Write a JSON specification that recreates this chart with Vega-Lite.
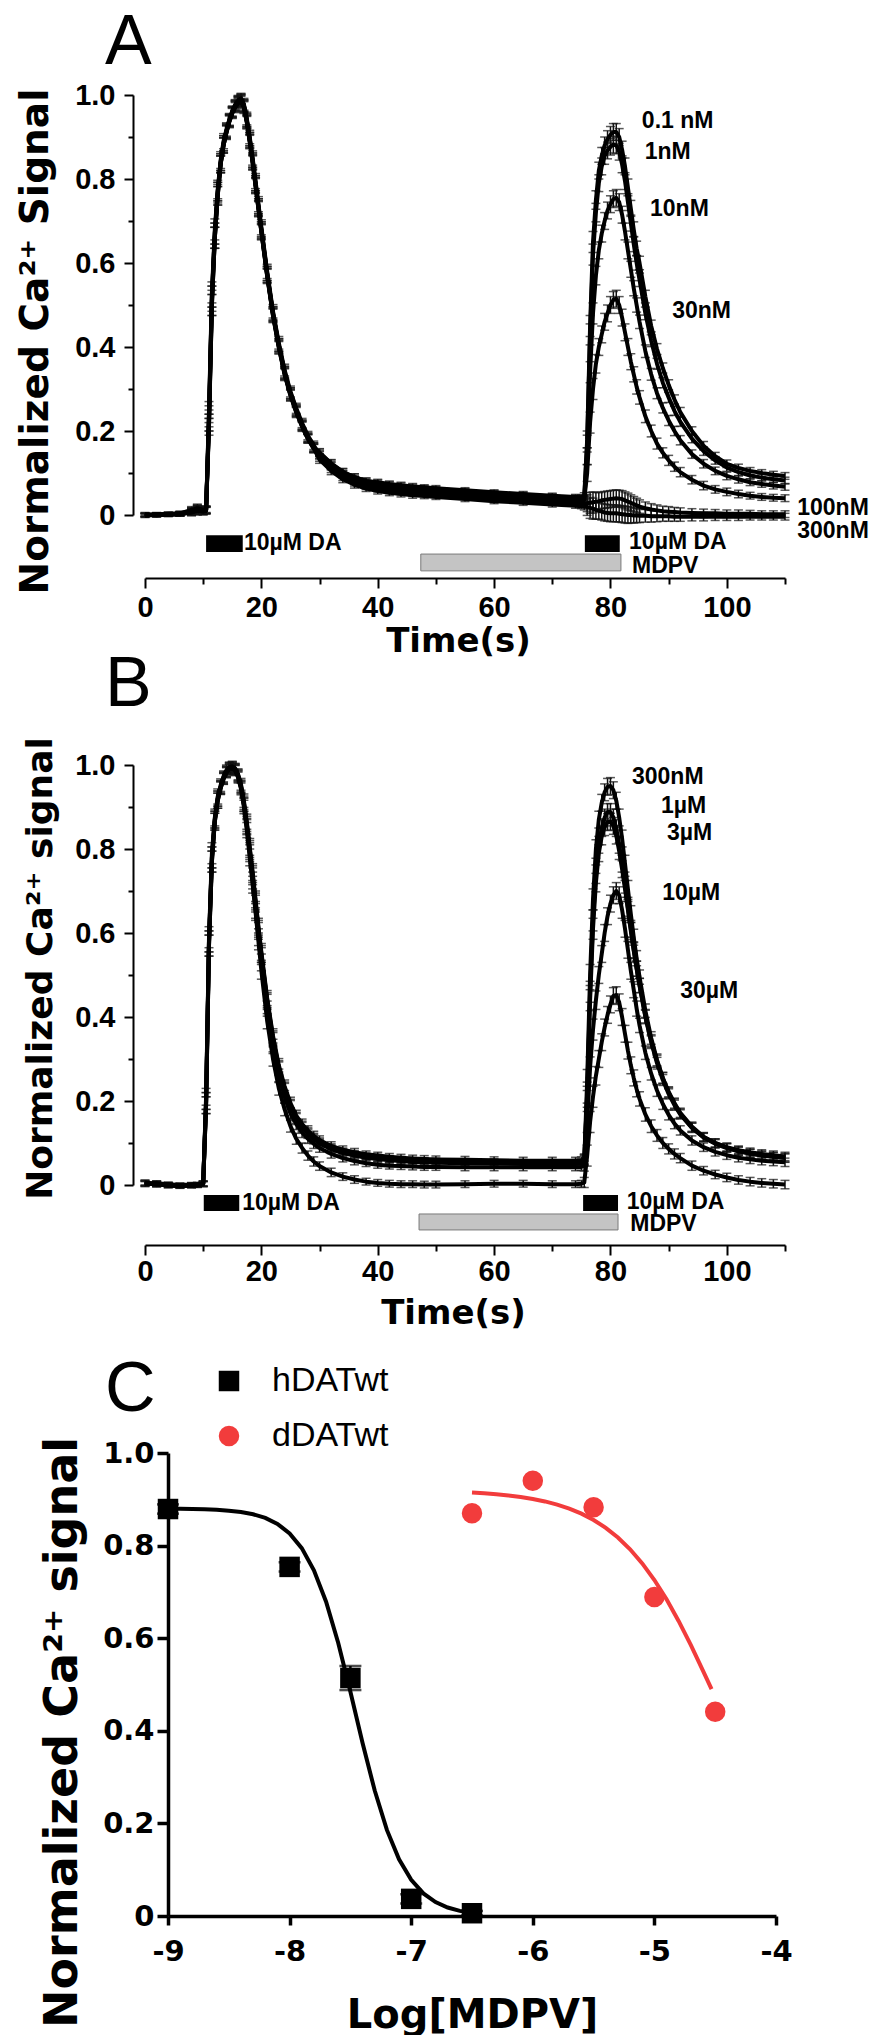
{
"$schema":"https://vega.github.io/schema/vega-lite/v6.json",
"padding":{"left":15,"top":8,"right":0,"bottom":0},
"background":"white",
"bounds":"flush",
"spacing":250,
"resolve":{"scale":{"color":"independent","shape":"independent"},"legend":{"color":"independent","shape":"independent"}},
"config":{
  "view":{"stroke":null},
  "axis":{"grid":false,"domainColor":"black","tickColor":"black","labelColor":"black","titleColor":"black","labelFlush":false,"labelOverlap":false,"labelBound":false}
},
"datasets":{
"traceA":[
{"t":0,"e":0.004,"a":0,"b":0.002,"c":-0.002,"d":0.001,"f":0,"g":-0.001},
{"t":2,"e":0.004,"a":0.001,"b":0,"c":0.002,"d":-0.001,"f":0.001,"g":0},
{"t":4,"e":0.004,"a":0.002,"b":0.003,"c":0.001,"d":0.002,"f":0,"g":0.002},
{"t":6,"e":0.005,"a":0.003,"b":0.004,"c":0.002,"d":0.003,"f":0.002,"g":0.003},
{"t":8,"e":0.008,"a":0.008,"b":0.012,"c":0.006,"d":0.01,"f":0.007,"g":0.009},
{"t":9,"e":0.01,"a":0.012,"b":0.016,"c":0.01,"d":0.014,"f":0.011,"g":0.013},
{"t":10,"e":0.008,"a":0.01,"b":0.012,"c":0.008,"d":0.011,"f":0.009,"g":0.01},
{"t":10.5,"e":0.008,"a":0.012,"b":0.014,"c":0.01,"d":0.012,"f":0.011,"g":0.012},
{"t":11,"e":0.02,"a":0.23,"b":0.22,"c":0.25,"d":0.21,"f":0.24,"g":0.22},
{"t":11.5,"e":0.025,"a":0.52,"b":0.5,"c":0.53,"d":0.5,"f":0.52,"g":0.51},
{"t":12,"e":0.025,"a":0.67,"b":0.66,"c":0.68,"d":0.66,"f":0.67,"g":0.66},
{"t":12.5,"e":0.022,"a":0.77,"b":0.76,"c":0.775,"d":0.76,"f":0.77,"g":0.765},
{"t":13,"e":0.02,"a":0.84,"b":0.835,"c":0.845,"d":0.835,"f":0.84,"g":0.835},
{"t":13.5,"e":0.018,"a":0.885,"b":0.88,"c":0.89,"d":0.88,"f":0.885,"g":0.88},
{"t":14,"e":0.016,"a":0.915,"b":0.912,"c":0.918,"d":0.91,"f":0.915,"g":0.912},
{"t":14.5,"e":0.014,"a":0.94,"b":0.938,"c":0.942,"d":0.936,"f":0.94,"g":0.938},
{"t":15,"e":0.012,"a":0.96,"b":0.958,"c":0.962,"d":0.956,"f":0.96,"g":0.958},
{"t":15.5,"e":0.012,"a":0.975,"b":0.972,"c":0.977,"d":0.97,"f":0.975,"g":0.973},
{"t":16,"e":0.012,"a":0.985,"b":0.982,"c":0.987,"d":0.98,"f":0.985,"g":0.983},
{"t":16.5,"e":0.012,"a":0.99,"b":0.987,"c":0.992,"d":0.985,"f":0.99,"g":0.988},
{"t":17,"e":0.014,"a":0.975,"b":0.972,"c":0.978,"d":0.97,"f":0.975,"g":0.973},
{"t":17.5,"e":0.015,"a":0.94,"b":0.936,"c":0.944,"d":0.934,"f":0.94,"g":0.937},
{"t":18,"e":0.016,"a":0.895,"b":0.89,"c":0.9,"d":0.888,"f":0.895,"g":0.891},
{"t":18.5,"e":0.017,"a":0.845,"b":0.84,"c":0.85,"d":0.838,"f":0.845,"g":0.841},
{"t":19,"e":0.018,"a":0.79,"b":0.785,"c":0.795,"d":0.783,"f":0.79,"g":0.786},
{"t":19.5,"e":0.018,"a":0.735,"b":0.73,"c":0.74,"d":0.728,"f":0.735,"g":0.731},
{"t":20,"e":0.018,"a":0.68,"b":0.675,"c":0.685,"d":0.673,"f":0.68,"g":0.676},
{"t":21,"e":0.017,"a":0.575,"b":0.57,"c":0.58,"d":0.568,"f":0.575,"g":0.571},
{"t":22,"e":0.016,"a":0.48,"b":0.476,"c":0.485,"d":0.474,"f":0.48,"g":0.477},
{"t":23,"e":0.015,"a":0.405,"b":0.4,"c":0.41,"d":0.398,"f":0.405,"g":0.402},
{"t":24,"e":0.014,"a":0.34,"b":0.336,"c":0.345,"d":0.334,"f":0.34,"g":0.337},
{"t":25,"e":0.013,"a":0.29,"b":0.286,"c":0.294,"d":0.284,"f":0.29,"g":0.287},
{"t":26,"e":0.012,"a":0.25,"b":0.246,"c":0.254,"d":0.244,"f":0.25,"g":0.247},
{"t":27,"e":0.011,"a":0.215,"b":0.212,"c":0.219,"d":0.21,"f":0.215,"g":0.212},
{"t":28,"e":0.01,"a":0.185,"b":0.182,"c":0.189,"d":0.181,"f":0.185,"g":0.182},
{"t":29,"e":0.01,"a":0.162,"b":0.159,"c":0.166,"d":0.158,"f":0.162,"g":0.159},
{"t":30,"e":0.009,"a":0.148,"b":0.142,"c":0.144,"d":0.149,"f":0.137,"g":0.132},
{"t":32,"e":0.009,"a":0.122,"b":0.116,"c":0.118,"d":0.123,"f":0.11,"g":0.105},
{"t":34,"e":0.008,"a":0.102,"b":0.097,"c":0.098,"d":0.103,"f":0.09,"g":0.085},
{"t":36,"e":0.008,"a":0.09,"b":0.084,"c":0.085,"d":0.09,"f":0.077,"g":0.072},
{"t":38,"e":0.007,"a":0.081,"b":0.075,"c":0.076,"d":0.081,"f":0.068,"g":0.063},
{"t":40,"e":0.007,"a":0.078,"b":0.072,"c":0.068,"d":0.076,"f":0.062,"g":0.057},
{"t":42,"e":0.007,"a":0.074,"b":0.068,"c":0.064,"d":0.072,"f":0.058,"g":0.053},
{"t":44,"e":0.007,"a":0.071,"b":0.065,"c":0.061,"d":0.069,"f":0.055,"g":0.05},
{"t":46,"e":0.007,"a":0.068,"b":0.062,"c":0.058,"d":0.066,"f":0.052,"g":0.047},
{"t":48,"e":0.006,"a":0.066,"b":0.06,"c":0.056,"d":0.064,"f":0.05,"g":0.045},
{"t":50,"e":0.006,"a":0.064,"b":0.058,"c":0.054,"d":0.062,"f":0.048,"g":0.043},
{"t":55,"e":0.006,"a":0.059,"b":0.053,"c":0.049,"d":0.057,"f":0.043,"g":0.038},
{"t":60,"e":0.006,"a":0.054,"b":0.048,"c":0.044,"d":0.052,"f":0.038,"g":0.033},
{"t":65,"e":0.006,"a":0.05,"b":0.044,"c":0.04,"d":0.048,"f":0.034,"g":0.029},
{"t":70,"e":0.006,"a":0.046,"b":0.04,"c":0.036,"d":0.044,"f":0.03,"g":0.025},
{"t":74,"e":0.006,"a":0.043,"b":0.037,"c":0.033,"d":0.041,"f":0.027,"g":0.022},
{"t":75,"e":0.006,"a":0.042,"b":0.036,"c":0.032,"d":0.04,"f":0.026,"g":0.021},
{"t":75.5,"e":0.008,"a":0.045,"b":0.04,"c":0.036,"d":0.037,"f":0.027,"g":0.02},
{"t":76,"e":0.02,"a":0.18,"b":0.17,"c":0.14,"d":0.1,"f":0.028,"g":0.019},
{"t":76.5,"e":0.025,"a":0.45,"b":0.43,"c":0.34,"d":0.22,"f":0.029,"g":0.017},
{"t":77,"e":0.025,"a":0.65,"b":0.62,"c":0.48,"d":0.3,"f":0.03,"g":0.015},
{"t":77.5,"e":0.022,"a":0.75,"b":0.72,"c":0.57,"d":0.36,"f":0.032,"g":0.012},
{"t":78,"e":0.02,"a":0.82,"b":0.79,"c":0.63,"d":0.4,"f":0.033,"g":0.01},
{"t":78.5,"e":0.02,"a":0.855,"b":0.83,"c":0.67,"d":0.43,"f":0.035,"g":0.008},
{"t":79,"e":0.02,"a":0.88,"b":0.855,"c":0.7,"d":0.46,"f":0.036,"g":0.006},
{"t":79.5,"e":0.02,"a":0.895,"b":0.868,"c":0.725,"d":0.48,"f":0.037,"g":0.005},
{"t":80,"e":0.02,"a":0.905,"b":0.877,"c":0.74,"d":0.5,"f":0.038,"g":0.004},
{"t":80.5,"e":0.02,"a":0.912,"b":0.882,"c":0.752,"d":0.512,"f":0.039,"g":0.004},
{"t":81,"e":0.02,"a":0.912,"b":0.88,"c":0.755,"d":0.515,"f":0.04,"g":0.004},
{"t":81.5,"e":0.02,"a":0.9,"b":0.865,"c":0.745,"d":0.5,"f":0.039,"g":0.003},
{"t":82,"e":0.02,"a":0.87,"b":0.835,"c":0.715,"d":0.47,"f":0.038,"g":0.002},
{"t":82.5,"e":0.02,"a":0.83,"b":0.795,"c":0.675,"d":0.435,"f":0.035,"g":0.001},
{"t":83,"e":0.02,"a":0.78,"b":0.745,"c":0.63,"d":0.4,"f":0.032,"g":0},
{"t":83.5,"e":0.019,"a":0.73,"b":0.695,"c":0.585,"d":0.365,"f":0.029,"g":0},
{"t":84,"e":0.018,"a":0.68,"b":0.645,"c":0.54,"d":0.335,"f":0.026,"g":-0.001},
{"t":84.5,"e":0.017,"a":0.635,"b":0.6,"c":0.5,"d":0.305,"f":0.023,"g":-0.001},
{"t":85,"e":0.016,"a":0.6,"b":0.56,"c":0.46,"d":0.28,"f":0.02,"g":-0.002},
{"t":86,"e":0.015,"a":0.52,"b":0.48,"c":0.39,"d":0.235,"f":0.016,"g":-0.002},
{"t":87,"e":0.014,"a":0.45,"b":0.415,"c":0.335,"d":0.2,"f":0.013,"g":-0.003},
{"t":88,"e":0.013,"a":0.395,"b":0.36,"c":0.29,"d":0.17,"f":0.011,"g":-0.003},
{"t":89,"e":0.012,"a":0.35,"b":0.315,"c":0.255,"d":0.148,"f":0.009,"g":-0.003},
{"t":90,"e":0.012,"a":0.31,"b":0.28,"c":0.225,"d":0.13,"f":0.008,"g":-0.003},
{"t":91,"e":0.011,"a":0.275,"b":0.248,"c":0.2,"d":0.115,"f":0.007,"g":-0.004},
{"t":92,"e":0.011,"a":0.245,"b":0.222,"c":0.178,"d":0.102,"f":0.006,"g":-0.004},
{"t":94,"e":0.01,"a":0.2,"b":0.182,"c":0.145,"d":0.084,"f":0.005,"g":-0.004},
{"t":96,"e":0.01,"a":0.165,"b":0.152,"c":0.122,"d":0.07,"f":0.004,"g":-0.004},
{"t":98,"e":0.009,"a":0.14,"b":0.13,"c":0.105,"d":0.061,"f":0.004,"g":-0.004},
{"t":100,"e":0.009,"a":0.122,"b":0.113,"c":0.093,"d":0.055,"f":0.003,"g":-0.004},
{"t":102,"e":0.009,"a":0.112,"b":0.102,"c":0.085,"d":0.05,"f":0.003,"g":-0.004},
{"t":104,"e":0.008,"a":0.105,"b":0.094,"c":0.078,"d":0.046,"f":0.003,"g":-0.004},
{"t":106,"e":0.008,"a":0.1,"b":0.089,"c":0.074,"d":0.043,"f":0.002,"g":-0.004},
{"t":108,"e":0.008,"a":0.096,"b":0.085,"c":0.07,"d":0.041,"f":0.002,"g":-0.004},
{"t":110,"e":0.008,"a":0.093,"b":0.082,"c":0.067,"d":0.04,"f":0.002,"g":-0.004}
],
"traceB":[
{"t":0,"e":0.006,"a":0.005,"b":0.003,"c":0.006,"d":0.004,"f":0.002},
{"t":2,"e":0.006,"a":0.003,"b":0.004,"c":0.002,"d":0.001,"f":0.003},
{"t":4,"e":0.005,"a":0,"b":0.002,"c":-0.001,"d":0.001,"f":-0.002},
{"t":6,"e":0.005,"a":-0.002,"b":0,"c":-0.003,"d":-0.001,"f":-0.002},
{"t":8,"e":0.005,"a":-0.001,"b":0.001,"c":-0.002,"d":0,"f":-0.001},
{"t":9,"e":0.005,"a":0,"b":0.001,"c":-0.001,"d":0.001,"f":0},
{"t":10,"e":0.006,"a":0.003,"b":0.004,"c":0.002,"d":0.003,"f":0.002},
{"t":10.5,"e":0.02,"a":0.2,"b":0.19,"c":0.21,"d":0.2,"f":0.19},
{"t":11,"e":0.025,"a":0.58,"b":0.57,"c":0.59,"d":0.58,"f":0.57},
{"t":11.5,"e":0.025,"a":0.78,"b":0.77,"c":0.79,"d":0.78,"f":0.77},
{"t":12,"e":0.02,"a":0.87,"b":0.865,"c":0.875,"d":0.87,"f":0.865},
{"t":12.5,"e":0.018,"a":0.92,"b":0.915,"c":0.925,"d":0.92,"f":0.915},
{"t":13,"e":0.015,"a":0.948,"b":0.945,"c":0.952,"d":0.948,"f":0.945},
{"t":13.5,"e":0.013,"a":0.97,"b":0.967,"c":0.973,"d":0.97,"f":0.967},
{"t":14,"e":0.012,"a":0.985,"b":0.982,"c":0.988,"d":0.985,"f":0.982},
{"t":14.5,"e":0.012,"a":0.993,"b":0.99,"c":0.995,"d":0.993,"f":0.99},
{"t":15,"e":0.012,"a":0.995,"b":0.992,"c":0.997,"d":0.995,"f":0.992},
{"t":15.5,"e":0.012,"a":0.99,"b":0.987,"c":0.992,"d":0.99,"f":0.987},
{"t":16,"e":0.013,"a":0.975,"b":0.972,"c":0.978,"d":0.975,"f":0.97},
{"t":16.5,"e":0.014,"a":0.95,"b":0.946,"c":0.954,"d":0.948,"f":0.943},
{"t":17,"e":0.016,"a":0.91,"b":0.905,"c":0.915,"d":0.906,"f":0.9},
{"t":17.5,"e":0.018,"a":0.86,"b":0.855,"c":0.865,"d":0.852,"f":0.845},
{"t":18,"e":0.02,"a":0.8,"b":0.795,"c":0.805,"d":0.79,"f":0.78},
{"t":18.5,"e":0.02,"a":0.74,"b":0.735,"c":0.745,"d":0.725,"f":0.715},
{"t":19,"e":0.02,"a":0.675,"b":0.67,"c":0.68,"d":0.655,"f":0.65},
{"t":19.5,"e":0.02,"a":0.61,"b":0.605,"c":0.615,"d":0.59,"f":0.58},
{"t":20,"e":0.02,"a":0.55,"b":0.545,"c":0.555,"d":0.53,"f":0.51},
{"t":21,"e":0.018,"a":0.44,"b":0.436,"c":0.445,"d":0.42,"f":0.39},
{"t":22,"e":0.017,"a":0.35,"b":0.346,"c":0.355,"d":0.33,"f":0.3},
{"t":23,"e":0.016,"a":0.28,"b":0.277,"c":0.285,"d":0.26,"f":0.23},
{"t":24,"e":0.015,"a":0.23,"b":0.227,"c":0.235,"d":0.21,"f":0.18},
{"t":25,"e":0.014,"a":0.19,"b":0.187,"c":0.195,"d":0.17,"f":0.14},
{"t":26,"e":0.013,"a":0.16,"b":0.157,"c":0.165,"d":0.145,"f":0.11},
{"t":27,"e":0.012,"a":0.14,"b":0.137,"c":0.145,"d":0.125,"f":0.088},
{"t":28,"e":0.011,"a":0.125,"b":0.122,"c":0.13,"d":0.11,"f":0.07},
{"t":29,"e":0.011,"a":0.112,"b":0.109,"c":0.117,"d":0.098,"f":0.056},
{"t":30,"e":0.01,"a":0.102,"b":0.099,"c":0.107,"d":0.088,"f":0.045},
{"t":32,"e":0.01,"a":0.088,"b":0.085,"c":0.093,"d":0.074,"f":0.03},
{"t":34,"e":0.009,"a":0.079,"b":0.076,"c":0.084,"d":0.064,"f":0.02},
{"t":36,"e":0.009,"a":0.073,"b":0.07,"c":0.078,"d":0.057,"f":0.013},
{"t":38,"e":0.008,"a":0.068,"b":0.065,"c":0.073,"d":0.052,"f":0.008},
{"t":40,"e":0.008,"a":0.065,"b":0.062,"c":0.07,"d":0.048,"f":0.005},
{"t":42,"e":0.008,"a":0.062,"b":0.059,"c":0.067,"d":0.046,"f":0.003},
{"t":44,"e":0.008,"a":0.06,"b":0.057,"c":0.065,"d":0.045,"f":0.002},
{"t":46,"e":0.008,"a":0.058,"b":0.055,"c":0.063,"d":0.044,"f":0.002},
{"t":48,"e":0.008,"a":0.057,"b":0.054,"c":0.062,"d":0.043,"f":0.001},
{"t":50,"e":0.008,"a":0.056,"b":0.053,"c":0.061,"d":0.043,"f":0.001},
{"t":55,"e":0.008,"a":0.055,"b":0.052,"c":0.06,"d":0.042,"f":0.002},
{"t":60,"e":0.008,"a":0.054,"b":0.051,"c":0.059,"d":0.042,"f":0.003},
{"t":65,"e":0.008,"a":0.053,"b":0.05,"c":0.058,"d":0.042,"f":0.003},
{"t":70,"e":0.008,"a":0.053,"b":0.05,"c":0.058,"d":0.042,"f":0.002},
{"t":74,"e":0.008,"a":0.053,"b":0.05,"c":0.058,"d":0.042,"f":0.002},
{"t":75,"e":0.008,"a":0.054,"b":0.051,"c":0.059,"d":0.043,"f":0.003},
{"t":75.5,"e":0.012,"a":0.06,"b":0.058,"c":0.062,"d":0.045,"f":0.006},
{"t":76,"e":0.025,"a":0.25,"b":0.22,"c":0.21,"d":0.15,"f":0.07},
{"t":76.5,"e":0.025,"a":0.5,"b":0.46,"c":0.44,"d":0.28,"f":0.15},
{"t":77,"e":0.025,"a":0.68,"b":0.63,"c":0.61,"d":0.37,"f":0.21},
{"t":77.5,"e":0.022,"a":0.8,"b":0.74,"c":0.72,"d":0.44,"f":0.26},
{"t":78,"e":0.02,"a":0.87,"b":0.81,"c":0.79,"d":0.5,"f":0.3},
{"t":78.5,"e":0.02,"a":0.91,"b":0.85,"c":0.83,"d":0.55,"f":0.34},
{"t":79,"e":0.02,"a":0.935,"b":0.875,"c":0.852,"d":0.6,"f":0.375},
{"t":79.5,"e":0.02,"a":0.948,"b":0.888,"c":0.864,"d":0.64,"f":0.405},
{"t":80,"e":0.02,"a":0.95,"b":0.888,"c":0.865,"d":0.67,"f":0.43},
{"t":80.5,"e":0.02,"a":0.94,"b":0.875,"c":0.855,"d":0.69,"f":0.45},
{"t":81,"e":0.02,"a":0.915,"b":0.85,"c":0.832,"d":0.7,"f":0.452},
{"t":81.5,"e":0.02,"a":0.875,"b":0.81,"c":0.795,"d":0.69,"f":0.435},
{"t":82,"e":0.02,"a":0.825,"b":0.765,"c":0.752,"d":0.655,"f":0.4},
{"t":82.5,"e":0.02,"a":0.765,"b":0.715,"c":0.705,"d":0.61,"f":0.36},
{"t":83,"e":0.02,"a":0.705,"b":0.66,"c":0.655,"d":0.56,"f":0.32},
{"t":83.5,"e":0.02,"a":0.645,"b":0.61,"c":0.605,"d":0.51,"f":0.285},
{"t":84,"e":0.019,"a":0.59,"b":0.56,"c":0.558,"d":0.465,"f":0.255},
{"t":84.5,"e":0.018,"a":0.54,"b":0.515,"c":0.515,"d":0.42,"f":0.228},
{"t":85,"e":0.017,"a":0.495,"b":0.475,"c":0.475,"d":0.38,"f":0.205},
{"t":86,"e":0.016,"a":0.415,"b":0.4,"c":0.402,"d":0.315,"f":0.168},
{"t":87,"e":0.015,"a":0.35,"b":0.34,"c":0.343,"d":0.265,"f":0.14},
{"t":88,"e":0.014,"a":0.298,"b":0.29,"c":0.295,"d":0.225,"f":0.118},
{"t":89,"e":0.013,"a":0.255,"b":0.25,"c":0.255,"d":0.193,"f":0.1},
{"t":90,"e":0.012,"a":0.22,"b":0.217,"c":0.222,"d":0.167,"f":0.086},
{"t":91,"e":0.012,"a":0.193,"b":0.19,"c":0.195,"d":0.146,"f":0.074},
{"t":92,"e":0.011,"a":0.17,"b":0.168,"c":0.172,"d":0.13,"f":0.064},
{"t":94,"e":0.011,"a":0.137,"b":0.136,"c":0.139,"d":0.106,"f":0.046},
{"t":96,"e":0.01,"a":0.114,"b":0.113,"c":0.115,"d":0.09,"f":0.034},
{"t":98,"e":0.01,"a":0.1,"b":0.098,"c":0.1,"d":0.079,"f":0.025},
{"t":100,"e":0.01,"a":0.09,"b":0.088,"c":0.089,"d":0.071,"f":0.018},
{"t":102,"e":0.01,"a":0.083,"b":0.08,"c":0.081,"d":0.065,"f":0.012},
{"t":104,"e":0.01,"a":0.078,"b":0.075,"c":0.075,"d":0.061,"f":0.008},
{"t":106,"e":0.01,"a":0.074,"b":0.07,"c":0.071,"d":0.058,"f":0.005},
{"t":108,"e":0.01,"a":0.071,"b":0.067,"c":0.068,"d":0.056,"f":0.003},
{"t":110,"e":0.01,"a":0.068,"b":0.064,"c":0.065,"d":0.054,"f":0.001}
],
"daA":[{"start":10.5,"end":16.8},{"start":75.6,"end":81.6}],
"mdA":[{"start":47.4,"end":81.8}],
"daB":[{"start":10.1,"end":16.2},{"start":75.3,"end":81.3}],
"mdB":[{"start":47.1,"end":81.3}],
"labA":[
{"t":85.4,"v":0.938,"label":"0.1 nM"},
{"t":85.9,"v":0.864,"label":"1nM"},
{"t":86.8,"v":0.729,"label":"10nM"},
{"t":90.6,"v":0.486,"label":"30nM"},
{"t":112.1,"v":0.017,"label":"100nM"},
{"t":112.1,"v":-0.038,"label":"300nM"},
{"t":17.0,"v":-0.067,"label":"10µM DA"},
{"t":83.2,"v":-0.064,"label":"10µM DA"},
{"t":83.7,"v":-0.121,"label":"MDPV"}
],
"labB":[
{"t":83.7,"v":0.971,"label":"300nM"},
{"t":88.7,"v":0.902,"label":"1µM"},
{"t":89.7,"v":0.838,"label":"3µM"},
{"t":88.9,"v":0.695,"label":"10µM"},
{"t":92.0,"v":0.462,"label":"30µM"},
{"t":16.7,"v":-0.043,"label":"10µM DA"},
{"t":82.8,"v":-0.040,"label":"10µM DA"},
{"t":83.4,"v":-0.093,"label":"MDPV"}
],
"cPts":[
{"g":"hDATwt","x":-9,"y":0.879,"e":0.01},
{"g":"hDATwt","x":-8,"y":0.754,"e":0.01},
{"g":"hDATwt","x":-7.5,"y":0.514,"e":0.026},
{"g":"hDATwt","x":-7,"y":0.037,"e":0.01},
{"g":"hDATwt","x":-6.5,"y":0.006,"e":0.005},
{"g":"dDATwt","x":-6.5,"y":0.870,"e":0.005},
{"g":"dDATwt","x":-6,"y":0.940,"e":0.005},
{"g":"dDATwt","x":-5.5,"y":0.883,"e":0.005},
{"g":"dDATwt","x":-5,"y":0.689,"e":0.005},
{"g":"dDATwt","x":-4.5,"y":0.441,"e":0.005}
],
"cFit":[
{"g":"hDATwt","x":-9,"y":0.8796},{"g":"hDATwt","x":-8.9,"y":0.8794},{"g":"hDATwt","x":-8.8,"y":0.879},{"g":"hDATwt","x":-8.7,"y":0.8784},{"g":"hDATwt","x":-8.6,"y":0.8773},{"g":"hDATwt","x":-8.5,"y":0.8755},{"g":"hDATwt","x":-8.4,"y":0.8725},{"g":"hDATwt","x":-8.3,"y":0.8677},{"g":"hDATwt","x":-8.2,"y":0.8597},{"g":"hDATwt","x":-8.1,"y":0.847},{"g":"hDATwt","x":-8,"y":0.8264},{"g":"hDATwt","x":-7.9,"y":0.7945},{"g":"hDATwt","x":-7.8,"y":0.7467},{"g":"hDATwt","x":-7.7,"y":0.6787},{"g":"hDATwt","x":-7.6,"y":0.5898},{"g":"hDATwt","x":-7.5,"y":0.4845},{"g":"hDATwt","x":-7.4,"y":0.3737},{"g":"hDATwt","x":-7.3,"y":0.2709},{"g":"hDATwt","x":-7.2,"y":0.1859},{"g":"hDATwt","x":-7.1,"y":0.1223},{"g":"hDATwt","x":-7,"y":0.078},{"g":"hDATwt","x":-6.9,"y":0.0487},{"g":"hDATwt","x":-6.8,"y":0.03},{"g":"hDATwt","x":-6.7,"y":0.0183},{"g":"hDATwt","x":-6.6,"y":0.0111},{"g":"hDATwt","x":-6.5,"y":0.0067},
{"g":"dDATwt","x":-6.5,"y":0.9145},{"g":"dDATwt","x":-6.4,"y":0.9129},{"g":"dDATwt","x":-6.3,"y":0.9109},{"g":"dDATwt","x":-6.2,"y":0.9084},{"g":"dDATwt","x":-6.1,"y":0.905},{"g":"dDATwt","x":-6,"y":0.9008},{"g":"dDATwt","x":-5.9,"y":0.8954},{"g":"dDATwt","x":-5.8,"y":0.8886},{"g":"dDATwt","x":-5.7,"y":0.88},{"g":"dDATwt","x":-5.6,"y":0.8691},{"g":"dDATwt","x":-5.5,"y":0.8554},{"g":"dDATwt","x":-5.4,"y":0.8384},{"g":"dDATwt","x":-5.3,"y":0.8176},{"g":"dDATwt","x":-5.2,"y":0.7921},{"g":"dDATwt","x":-5.1,"y":0.7616},{"g":"dDATwt","x":-5,"y":0.7256},{"g":"dDATwt","x":-4.9,"y":0.684},{"g":"dDATwt","x":-4.8,"y":0.6368},{"g":"dDATwt","x":-4.7,"y":0.585},{"g":"dDATwt","x":-4.6,"y":0.5293},{"g":"dDATwt","x":-4.53,"y":0.49}
]
},
"vconcat":[
{
 "width":640,"height":420,
 "title":{"text":"A","anchor":"start","frame":"group","dx":-40,"offset":-53,"baseline":"alphabetic","font":"Liberation Sans","fontSize":70,"fontWeight":"normal","color":"black"},
 "resolve":{"axis":{"x":"independent","y":"independent"}},
 "layer":[
  {"data":{"name":"mdA"},"mark":{"type":"rect","fill":"#c4c4c4","stroke":"#7a7a7a","strokeWidth":1},
   "encoding":{"x":{"field":"start","type":"quantitative","scale":{"domain":[0,110],"nice":false,"zero":false},"axis":null},"x2":{"field":"end"},
   "y":{"datum":-0.093,"type":"quantitative","scale":{"domain":[0,1],"nice":false,"zero":false},"axis":null},"y2":{"datum":-0.133}}},
  {"data":{"name":"daA"},"mark":{"type":"rect","fill":"black"},
   "encoding":{"x":{"field":"start","type":"quantitative","scale":{"domain":[0,110],"nice":false,"zero":false},"axis":null},"x2":{"field":"end"},
   "y":{"datum":-0.048,"type":"quantitative","scale":{"domain":[0,1],"nice":false,"zero":false},"axis":null},"y2":{"datum":-0.088}}},
  {"data":{"name":"traceA"},"transform":[{"fold":["a","b","c","d","f","g"],"as":["s","v"]}],
   "mark":{"type":"errorbar","ticks":{"size":9,"color":"#111111"},"thickness":1.5,"color":"#111111"},
   "encoding":{"x":{"field":"t","type":"quantitative","scale":{"domain":[0,110],"nice":false,"zero":false},"axis":null},
   "y":{"field":"v","type":"quantitative","scale":{"domain":[0,1],"nice":false,"zero":false},"axis":null},"yError":{"field":"e"}}},
  {"data":{"name":"traceA"},"transform":[{"fold":["a","b","c","d","f","g"],"as":["s","v"]}],
   "mark":{"type":"line","color":"black","strokeWidth":4,"strokeJoin":"round"},
   "encoding":{"x":{"field":"t","type":"quantitative","scale":{"domain":[0,110],"nice":false,"zero":false},
     "axis":{"orient":"bottom","offset":63,"values":[0,20,40,60,80,100],"format":"d","tickSize":10,"tickWidth":2,"domainWidth":2,"labelFont":"Liberation Sans","labelFontWeight":"bold","labelFontSize":29,"labelPadding":5,"title":"Time(s)","titleFont":"DejaVu Sans","titleFontWeight":"bold","titleFontSize":34,"titleX":313,"titleY":63,"titleBaseline":"middle","titleAlign":"center"}},
   "y":{"field":"v","type":"quantitative","scale":{"domain":[0,1],"nice":false,"zero":false},
     "axis":{"orient":"left","offset":12,"values":[0,0.2,0.4,0.6,0.8,1],"labelExpr":"datum.value == 0 ? '0' : format(datum.value, '.1f')","tickSize":9,"tickWidth":2,"domainWidth":2,"labelFont":"Liberation Sans","labelFontWeight":"bold","labelFontSize":29,"labelPadding":9,"title":"Normalized Ca²⁺ Signal","titleFont":"DejaVu Sans","titleFontWeight":"bold","titleFontSize":39,"titleX":-98,"titleY":246,"titleAngle":270,"titleBaseline":"middle","titleAlign":"center"}},
   "detail":{"field":"s"}}},
  {"data":{"name":"labA"},"mark":{"type":"text","align":"left","baseline":"middle","font":"Liberation Sans","fontWeight":"bold","fontSize":23,"color":"black"},
   "encoding":{"x":{"field":"t","type":"quantitative","scale":{"domain":[0,110],"nice":false,"zero":false},
     "axis":{"orient":"bottom","offset":63,"values":[10,30,50,70,90,110],"tickSize":6,"tickWidth":2,"labels":false,"domain":false,"title":null}},
   "y":{"field":"v","type":"quantitative","scale":{"domain":[0,1],"nice":false,"zero":false},
     "axis":{"orient":"left","offset":12,"values":[0.1,0.3,0.5,0.7,0.9],"tickSize":5,"tickWidth":2,"labels":false,"domain":false,"title":null}},
   "text":{"field":"label"}}}
 ]
},
{
 "width":640,"height":420,
 "title":{"text":"B","anchor":"start","frame":"group","dx":-40,"offset":-39,"baseline":"alphabetic","font":"Liberation Sans","fontSize":70,"fontWeight":"normal","color":"black"},
 "resolve":{"axis":{"x":"independent","y":"independent"}},
 "layer":[
  {"data":{"name":"mdB"},"mark":{"type":"rect","fill":"#c4c4c4","stroke":"#7a7a7a","strokeWidth":1},
   "encoding":{"x":{"field":"start","type":"quantitative","scale":{"domain":[0,110],"nice":false,"zero":false},"axis":null},"x2":{"field":"end"},
   "y":{"datum":-0.069,"type":"quantitative","scale":{"domain":[0,1],"nice":false,"zero":false},"axis":null},"y2":{"datum":-0.107}}},
  {"data":{"name":"daB"},"mark":{"type":"rect","fill":"black"},
   "encoding":{"x":{"field":"start","type":"quantitative","scale":{"domain":[0,110],"nice":false,"zero":false},"axis":null},"x2":{"field":"end"},
   "y":{"datum":-0.024,"type":"quantitative","scale":{"domain":[0,1],"nice":false,"zero":false},"axis":null},"y2":{"datum":-0.062}}},
  {"data":{"name":"traceB"},"transform":[{"fold":["a","b","c","d","f"],"as":["s","v"]}],
   "mark":{"type":"errorbar","ticks":{"size":9,"color":"#111111"},"thickness":1.5,"color":"#111111"},
   "encoding":{"x":{"field":"t","type":"quantitative","scale":{"domain":[0,110],"nice":false,"zero":false},"axis":null},
   "y":{"field":"v","type":"quantitative","scale":{"domain":[0,1],"nice":false,"zero":false},"axis":null},"yError":{"field":"e"}}},
  {"data":{"name":"traceB"},"transform":[{"fold":["a","b","c","d","f"],"as":["s","v"]}],
   "mark":{"type":"line","color":"black","strokeWidth":4,"strokeJoin":"round"},
   "encoding":{"x":{"field":"t","type":"quantitative","scale":{"domain":[0,110],"nice":false,"zero":false},
     "axis":{"orient":"bottom","offset":60,"values":[0,20,40,60,80,100],"format":"d","tickSize":10,"tickWidth":2,"domainWidth":2,"labelFont":"Liberation Sans","labelFontWeight":"bold","labelFontSize":29,"labelPadding":2,"title":"Time(s)","titleFont":"DejaVu Sans","titleFontWeight":"bold","titleFontSize":34,"titleX":308,"titleY":68,"titleBaseline":"middle","titleAlign":"center"}},
   "y":{"field":"v","type":"quantitative","scale":{"domain":[0,1],"nice":false,"zero":false},
     "axis":{"orient":"left","offset":12,"values":[0,0.2,0.4,0.6,0.8,1],"labelExpr":"datum.value == 0 ? '0' : format(datum.value, '.1f')","tickSize":9,"tickWidth":2,"domainWidth":2,"labelFont":"Liberation Sans","labelFontWeight":"bold","labelFontSize":29,"labelPadding":9,"title":"Normalized Ca²⁺ signal","titleFont":"DejaVu Sans","titleFontWeight":"bold","titleFontSize":36,"titleX":-93,"titleY":203,"titleAngle":270,"titleBaseline":"middle","titleAlign":"center"}},
   "detail":{"field":"s"}}},
  {"data":{"name":"labB"},"mark":{"type":"text","align":"left","baseline":"middle","font":"Liberation Sans","fontWeight":"bold","fontSize":23,"color":"black"},
   "encoding":{"x":{"field":"t","type":"quantitative","scale":{"domain":[0,110],"nice":false,"zero":false},
     "axis":{"orient":"bottom","offset":60,"values":[10,30,50,70,90,110],"tickSize":6,"tickWidth":2,"labels":false,"domain":false,"title":null}},
   "y":{"field":"v","type":"quantitative","scale":{"domain":[0,1],"nice":false,"zero":false},
     "axis":{"orient":"left","offset":12,"values":[0.1,0.3,0.5,0.7,0.9],"tickSize":5,"tickWidth":2,"labels":false,"domain":false,"title":null}},
   "text":{"field":"label"}}}
 ]
},
{
 "width":631,"height":481,
 "title":{"text":"C","anchor":"start","frame":"group","dx":-40,"offset":-117,"baseline":"alphabetic","font":"Liberation Sans","fontSize":70,"fontWeight":"normal","color":"black"},
 "resolve":{"axis":{"x":"independent","y":"independent"}},
 "layer":[
  {"data":{"name":"cFit"},"transform":[{"filter":"datum.g == 'hDATwt'"}],"mark":{"type":"line","strokeWidth":4,"color":"black"},
   "encoding":{"x":{"field":"x","type":"quantitative","scale":{"domain":[-9,-4],"range":[23,631],"nice":false,"zero":false},"axis":null},
   "y":{"field":"y","type":"quantitative","scale":{"domain":[0,1],"range":[481,18],"nice":false,"zero":false},"axis":null}}},
  {"data":{"name":"cFit"},"transform":[{"filter":"datum.g == 'dDATwt'"}],"mark":{"type":"line","strokeWidth":4,"color":"#f23c3c"},
   "encoding":{"x":{"field":"x","type":"quantitative","scale":{"domain":[-9,-4],"range":[23,631],"nice":false,"zero":false},"axis":null},
   "y":{"field":"y","type":"quantitative","scale":{"domain":[0,1],"range":[481,18],"nice":false,"zero":false},"axis":null}}},
  {"data":{"name":"cPts"},"transform":[{"filter":"datum.g == 'hDATwt'"}],
   "mark":{"type":"errorbar","ticks":{"size":22,"color":"black"},"thickness":2.5,"color":"black"},
   "encoding":{"x":{"field":"x","type":"quantitative","scale":{"domain":[-9,-4],"range":[23,631],"nice":false,"zero":false},"axis":null},
   "y":{"field":"y","type":"quantitative","scale":{"domain":[0,1],"range":[481,18],"nice":false,"zero":false},"axis":null},"yError":{"field":"e"}}},
  {"data":{"name":"cPts"},"mark":{"type":"point","filled":true,"size":420,"opacity":1},
   "encoding":{"x":{"field":"x","type":"quantitative","scale":{"domain":[-9,-4],"range":[23,631],"nice":false,"zero":false},
     "axis":{"orient":"bottom","values":[-9,-8,-7,-6,-5,-4],"labelExpr":"'-' + abs(datum.value)","tickSize":9,"tickWidth":3.5,"domainWidth":3.5,"labelFont":"DejaVu Sans","labelFontWeight":"bold","labelFontSize":29,"labelPadding":12,"title":"Log[MDPV]","titleFont":"DejaVu Sans","titleFontWeight":"bold","titleFontSize":40,"titleX":327,"titleY":99,"titleBaseline":"middle","titleAlign":"center"}},
   "y":{"field":"y","type":"quantitative","scale":{"domain":[0,1],"range":[481,18],"nice":false,"zero":false},
     "axis":{"orient":"left","offset":-23,"values":[0,0.2,0.4,0.6,0.8,1],"labelExpr":"datum.value == 0 ? '0' : format(datum.value, '.1f')","tickSize":11,"tickWidth":3.5,"domainWidth":3.5,"labelFont":"DejaVu Sans","labelFontWeight":"bold","labelFontSize":29,"labelPadding":3,"title":"Normalized Ca²⁺ signal","titleFont":"DejaVu Sans","titleFontWeight":"bold","titleFontSize":46,"titleX":-106,"titleY":297,"titleAngle":270,"titleBaseline":"middle","titleAlign":"center"}},
   "color":{"field":"g","type":"nominal","scale":{"domain":["hDATwt","dDATwt"],"range":["black","#f23c3c"]},
     "legend":{"orient":"none","legendX":67,"legendY":-71,"title":null,"direction":"vertical","padding":0,"labelFont":"Liberation Sans","labelFontSize":34,"labelColor":"black","symbolSize":420,"rowPadding":21,"labelOffset":26}},
   "shape":{"field":"g","type":"nominal","scale":{"domain":["hDATwt","dDATwt"],"range":["square","circle"]},
     "legend":{"orient":"none","legendX":67,"legendY":-71,"title":null,"direction":"vertical","padding":0,"labelFont":"Liberation Sans","labelFontSize":34,"labelColor":"black","symbolSize":420,"rowPadding":21,"labelOffset":26}}}}
 ]
}
]
}
